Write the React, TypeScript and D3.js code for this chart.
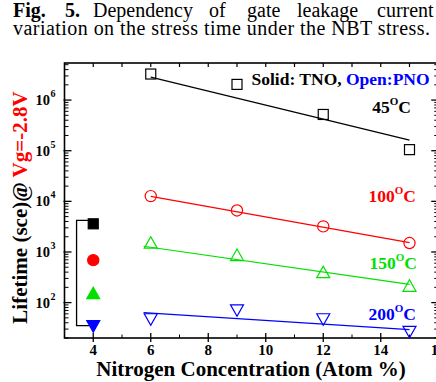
import React from "react";
import * as d3 from "d3";

// ---- data ----
const nitrogen = [6, 9, 12, 15];
const tnoX = 4;
const temps = ["45", "100", "150", "200"];
const colors = ["#000000", "#ff0000", "#00e000", "#0000ff"];
const pno45 = [3.27e6, 2.04e6, 5.2e5, 1.05e5];
const pno100 = [1.27e4, 6.6e3, 3.2e3, 1.5e3];
const pno150 = [1.49e3, 850, 390, 210];
const pno200 = [48, 72, 48, 27];
const tnoValues = [3.6e3, 690, 150, 35];
const fitStartX = [6, 6, 5.75, 5.75];
const fitEndX = [15, 15, 15, 15];
const fitStartY = [2.85e6, 1.256e4, 1.297e3, 63.4];
const fitEndY = [1.62e5, 1.535e3, 230, 29.2];
const xTicks = [4, 6, 8, 10, 12, 14, 16];
const yMajor = [1e2, 1e3, 1e4, 1e5, 1e6];
const yExp = ["2", "3", "4", "5", "6"];

const W = 436, H = 382;
const FONT = "'Liberation Serif', 'Times New Roman', serif";

export default function App() {
  const x = d3.scaleLinear().domain([3, 16]).range([64.5, 438.25]);
  const y = d3.scaleLog().domain([20, 5.4e6]).range([338, 63]);
  const [x0, x1] = x.range();
  const [yb, yt] = y.range();
  const series = [pno45, pno100, pno150, pno200];
  const line = d3.line<[number, number]>().x(d => x(d[0])).y(d => y(d[1]));

  const minorY: number[] = [];
  for (let e = 1; e <= 6; e++) {
    for (let m = 2; m <= 9; m++) {
      const v = m * Math.pow(10, e);
      if (v >= 20 && v <= 5.4e6) minorY.push(v);
    }
  }
  const intX = d3.range(4, 17);
  const oddX = intX.filter(v => v % 2 === 1);

  const marker = (kind: number, cx: number, cy: number, col: string, filled: boolean, key: string) => {
    const fill = filled ? col : "none";
    const sw = 1.2;
    if (kind === 0) {
      return <rect key={key} x={cx - 5} y={cy - 5} width={10} height={10} fill={fill} stroke={col} strokeWidth={sw} />;
    }
    if (kind === 1) {
      return <circle key={key} cx={cx} cy={cy} r={5.6} fill={fill} stroke={col} strokeWidth={sw} />;
    }
    if (kind === 2) {
      const p = `M${cx - 6.5},${cy + 5} L${cx + 6.5},${cy + 5} L${cx},${cy - 6.5} Z`;
      return <path key={key} d={p} fill={fill} stroke={col} strokeWidth={sw} />;
    }
    const p = `M${cx - 6.5},${cy - 5} L${cx + 6.5},${cy - 5} L${cx},${cy + 6.5} Z`;
    return <path key={key} d={p} fill={fill} stroke={col} strokeWidth={sw} />;
  };

  const tempLabelBaseline = [113, 202, 269, 320];
  const tempLabelEnd = [411, 416, 417, 416];

  const bx = x(3.42);
  const bracketTop = y(4.2e3);
  const bracketBottom = y(35);

  const titleWords1 = [
    { t: "Fig.", x: 13, b: true },
    { t: "5.", x: 65, b: true },
    { t: "Dependency", x: 93, b: false },
    { t: "of", x: 209, b: false },
    { t: "gate", x: 247, b: false },
    { t: "leakage", x: 297, b: false },
    { t: "current", x: 377, b: false },
  ];

  return (
    <svg width={W} height={H} style={{ position: "absolute", left: 0, top: 0, background: "#fff" }} fontFamily={FONT}>
      <rect x={0} y={0} width={W} height={H} fill="#fff" />
      {/* caption */}
      {titleWords1.map((w, i) => (
        <text key={"t1" + i} x={w.x} y={17} fontSize={20} fontWeight={w.b ? "bold" : "normal"} fill="#000">{w.t}</text>
      ))}
      <text x={13} y={35} fontSize={20} fill="#000" textLength={417} lengthAdjust="spacing">
        variation on the stress time under the NBT stress.
      </text>

      {/* frame */}
      <rect x={x0} y={yt} width={x1 - x0} height={yb - yt} fill="none" stroke="#000" strokeWidth={1.6} />

      {/* y ticks left & right */}
      {yMajor.map((v, i) => (
        <g key={"ym" + i}>
          <line x1={x0 - 1} x2={x0 + 7} y1={y(v)} y2={y(v)} stroke="#000" strokeWidth={1.3} />
          <line x1={x1 - 7} x2={x1} y1={y(v)} y2={y(v)} stroke="#000" strokeWidth={1.3} />
          <text x={50} y={y(v) + 5} fontSize={14.5} fontWeight="bold" textAnchor="end" fill="#000">10</text>
          <text x={50.5} y={y(v) - 3} fontSize={10} fontWeight="bold" fill="#000">{yExp[i]}</text>
        </g>
      ))}
      {minorY.map((v, i) => (
        <g key={"yn" + i}>
          <line x1={x0} x2={x0 + 4} y1={y(v)} y2={y(v)} stroke="#000" strokeWidth={1} />
          <line x1={x1 - 4} x2={x1} y1={y(v)} y2={y(v)} stroke="#000" strokeWidth={1} />
        </g>
      ))}

      {/* x ticks */}
      {xTicks.map((v, i) => (
        <g key={"xm" + i}>
          <line x1={x(v)} x2={x(v)} y1={yb + 4} y2={yb - 5} stroke="#000" strokeWidth={1.3} />
          <text x={x(v)} y={355} fontSize={15} fontWeight="bold" textAnchor="middle" fill="#000">{v}</text>
        </g>
      ))}
      {oddX.map((v, i) => (
        <line key={"xn" + i} x1={x(v)} x2={x(v)} y1={yb} y2={yb - 3.5} stroke="#000" strokeWidth={1} />
      ))}
      {intX.map((v, i) => (
        <line key={"xt" + i} x1={x(v)} x2={x(v)} y1={yt} y2={yt + 4} stroke="#000" strokeWidth={1.2} />
      ))}

      {/* fit lines */}
      {series.map((_, i) => (
        <path key={"fit" + i}
          d={line([[fitStartX[i], fitStartY[i]], [fitEndX[i], fitEndY[i]]]) || ""}
          fill="none" stroke={colors[i]} strokeWidth={1.2} />
      ))}

      {/* open markers (PNO) */}
      {series.map((s, i) => s.map((v, j) => marker(i, x(nitrogen[j]), y(v), colors[i], false, `o${i}-${j}`)))}

      {/* bracket + filled markers (TNO) */}
      <path d={`M${x(tnoX)},${bracketTop} L${bx},${bracketTop} L${bx},${bracketBottom} L${x(tnoX)},${bracketBottom}`}
        fill="none" stroke="#000" strokeWidth={1.3} />
      {tnoValues.map((v, i) => marker(i, x(tnoX), y(v), colors[i], true, `f${i}`))}

      {/* annotations */}
      <text x={251.5} y={85} fontSize={17.5} fontWeight="bold" fill="#000">
        Solid: TNO, <tspan fill="#0000ff">Open:PNO</tspan>
      </text>
      {temps.map((t, i) => (
        <text key={"tl" + i} x={tempLabelEnd[i]} y={tempLabelBaseline[i]} fontSize={17.5} fontWeight="bold"
          textAnchor="end" fill={colors[i]}>
          {t}<tspan dy={-8} fontSize={11}>O</tspan><tspan dy={8}>C</tspan>
        </text>
      ))}

      {/* axis titles */}
      <text x={251} y={376} fontSize={21} fontWeight="bold" textAnchor="middle" fill="#000">
        Nitrogen Concentration (Atom %)
      </text>
      <text transform={`translate(26.5,207.5) rotate(-90)`} fontSize={21} fontWeight="bold" textAnchor="middle" fill="#000">
        Lifetime (sce)@ <tspan fill="#ff0000">Vg=-2.8V</tspan>
      </text>
    </svg>
  );
}
